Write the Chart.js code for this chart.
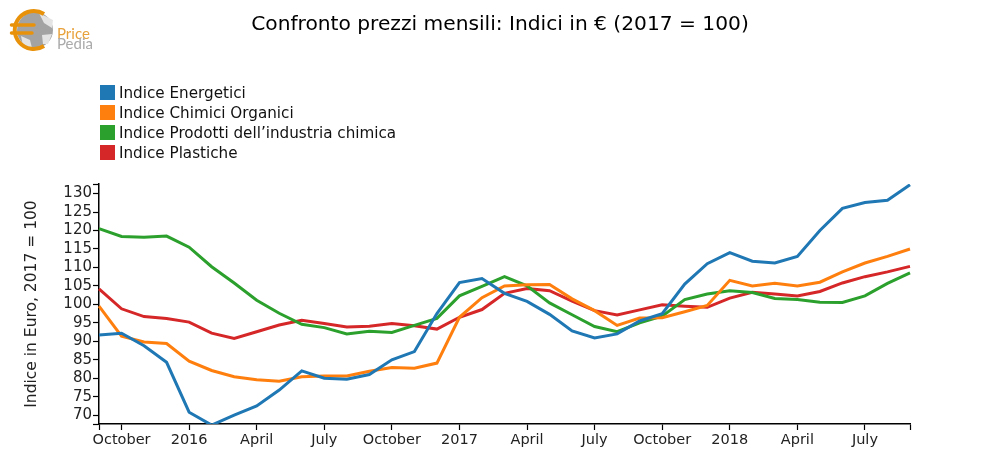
<!DOCTYPE html>
<html>
<head>
<meta charset="utf-8">
<script src="https://cdn.jsdelivr.net/npm/chart.js@4"></script>
<style>
  html, body { margin: 0; padding: 0; background: #fff; }
  #wrap { position: relative; width: 1000px; height: 475px; overflow: hidden; font-family: "DejaVu Sans", sans-serif; }
  #title { position: absolute; left: 0; top: 11px; width: 1000px; text-align: center; font-size: 20.2px; color: #000; }
  #logo { position: absolute; left: 8px; top: 8px; }
  #legend { position: absolute; left: 100px; top: 83px; }
  .row { height: 20px; line-height: 20px; font-size: 15.2px; color: #111; white-space: nowrap; }
  .box { display: inline-block; width: 15px; height: 15px; margin-right: 4px; vertical-align: -2px; }
</style>
</head>
<body>
<div id="wrap">
  <canvas id="chart" width="1000" height="475"></canvas>
  <div id="title">Confronto prezzi mensili: Indici in € (2017 = 100)</div>
  <svg id="logo" width="90" height="46" viewBox="0 0 90 46">
    <circle cx="27" cy="22" r="18" fill="#a3a3a3"/>
    <path d="M31 5 L45 12 L44 20 L36 15 Z M34 27 L44 26 L40 36 L35 36 Z M13 28 L22 32 L24 40 L15 38 Z" fill="#e4e4e4"/>
    <path d="M36 6 A19 19 0 1 0 36 38" fill="none" stroke="#e8920c" stroke-width="4"/>
    <path d="M3.5 17 H26 M3.5 25 H24" stroke="#e8920c" stroke-width="3.5" stroke-linecap="round"/>
    <text x="49" y="31" font-family="Lato" font-size="15" fill="#e8a23c">Price</text>
    <text x="49" y="41" font-family="Lato" font-size="15" fill="#aaaaaa">Pedia</text>
  </svg>
  <div id="legend"></div>
</div>
<script>
//Month labels, September 2015 to September 2018. Empty means tick is not drawn
const months = ['', 'October', '', '', '2016', '', '', 'April', '', '', 'July', '', '',
  'October', '', '', '2017', '', '', 'April', '', '', 'July', '', '',
  'October', '', '', '2018', '', '', 'April', '', '', 'July', '', ''];

const energetici = [91.7, 92.2, 88.8, 84.3, 70.8, 67.3, 70.0, 72.5, 76.8, 82.0, 80.0, 79.7, 81.0,
  85.0, 87.2, 97.5, 105.9, 107.0, 103.0, 100.8, 97.3, 92.8, 90.9, 92.0, 95.5,
  97.5, 105.5, 111.0, 114.0, 111.7, 111.2, 113.0, 120.0, 126.0, 127.6, 128.2, 132.4];
const chimiciOrganici = [99.5, 91.4, 89.8, 89.4, 84.6, 82.1, 80.4, 79.6, 79.2, 80.4, 80.6, 80.6, 81.9,
  82.9, 82.7, 84.1, 96.5, 101.8, 105.0, 105.3, 105.4, 101.5, 98.3, 94.3, 96.3,
  96.4, 98.0, 99.7, 106.5, 105.0, 105.7, 105.0, 106.0, 108.8, 111.2, 113.0, 115.0];
const prodottiChimica = [120.5, 118.4, 118.2, 118.5, 115.5, 110.2, 105.8, 101.1, 97.6, 94.6, 93.7, 92.0, 92.7,
  92.4, 94.3, 96.2, 102.3, 104.9, 107.5, 105.0, 100.4, 97.2, 94.0, 92.6, 95.0,
  96.8, 101.3, 102.8, 103.7, 103.2, 101.6, 101.3, 100.6, 100.5, 102.3, 105.7, 108.5];
const plastiche = [104.2, 98.8, 96.7, 96.2, 95.2, 92.2, 90.8, 92.6, 94.4, 95.7, 94.8, 93.9, 94.1,
  94.8, 94.2, 93.3, 96.5, 98.6, 103.0, 104.3, 103.7, 100.9, 98.3, 97.1, 98.5,
  99.9, 99.5, 99.2, 101.7, 103.3, 102.8, 102.3, 103.5, 105.8, 107.5, 108.8, 110.3];

const seriesNames = ['Indice Energetici', 'Indice Chimici Organici', 'Indice Prodotti dell’industria chimica', 'Indice Plastiche'];
const seriesValues = [energetici, chimiciOrganici, prodottiChimica, plastiche];
const seriesColors = ['#1f77b4', '#ff7f0e', '#2ca02c', '#d62728'];
const yTickValues = [70, 75, 80, 85, 90, 95, 100, 105, 110, 115, 120, 125, 130];
const yMin = 67.6;
const yMax = 132.6;

//Legend is a plain list above the plot
document.getElementById('legend').innerHTML = seriesNames.map((name, i) =>
  '<div class="row"><span class="box" style="background:' + seriesColors[i] + '"></span>' + name + '</div>').join('');

const fontFamily = '"DejaVu Sans", sans-serif';

new Chart(document.getElementById('chart'), {
  type: 'line',
  data: {
    labels: months,
    datasets: seriesNames.map((name, i) => ({
      label: name,
      data: seriesValues[i],
      borderColor: seriesColors[i],
      borderWidth: 3,
      pointRadius: 0,
      tension: 0
    }))
  },
  options: {
    responsive: false,
    animation: false,
    layout: { padding: { top: 184, right: 90, bottom: 0, left: 0 } },
    plugins: {
      legend: { display: false },
      tooltip: { enabled: false }
    },
    scales: {
      x: {
        type: 'category',
        offset: false,
        afterFit: scale => { scale.height = 51; },
        border: { color: '#000', width: 1.5 },
        grid: {
          drawOnChartArea: false,
          tickLength: 6,
          tickWidth: 1.2,
          tickColor: ctx => (months[ctx.index] !== '' || ctx.index === months.length - 1 || ctx.index === 0) ? '#000' : 'transparent'
        },
        ticks: {
          autoSkip: false,
          maxRotation: 0,
          padding: 2,
          color: '#222',
          font: { family: fontFamily, size: 14.5 },
          callback: (value, index) => months[index]
        }
      },
      y: {
        min: yMin,
        max: yMax,
        afterFit: scale => { scale.width = 99; },
        //The axis ends keep a tick mark but no label
        afterBuildTicks: scale => {
          scale.ticks = [yMin, ...yTickValues, yMax].map(value => ({ value }));
        },
        border: { color: '#000', width: 1.5 },
        grid: { drawOnChartArea: false, tickLength: 6, tickWidth: 1.2, tickColor: '#000' },
        title: {
          display: true,
          text: 'Indice in Euro, 2017 = 100',
          color: '#222',
          font: { family: fontFamily, size: 15.5 },
          padding: { top: 23, bottom: 0 }
        },
        ticks: {
          autoSkip: false,
          padding: 1,
          color: '#222',
          font: { family: fontFamily, size: 15 },
          callback: value => yTickValues.includes(value) ? value : ''
        }
      }
    }
  }
});
</script>
</body>
</html>
